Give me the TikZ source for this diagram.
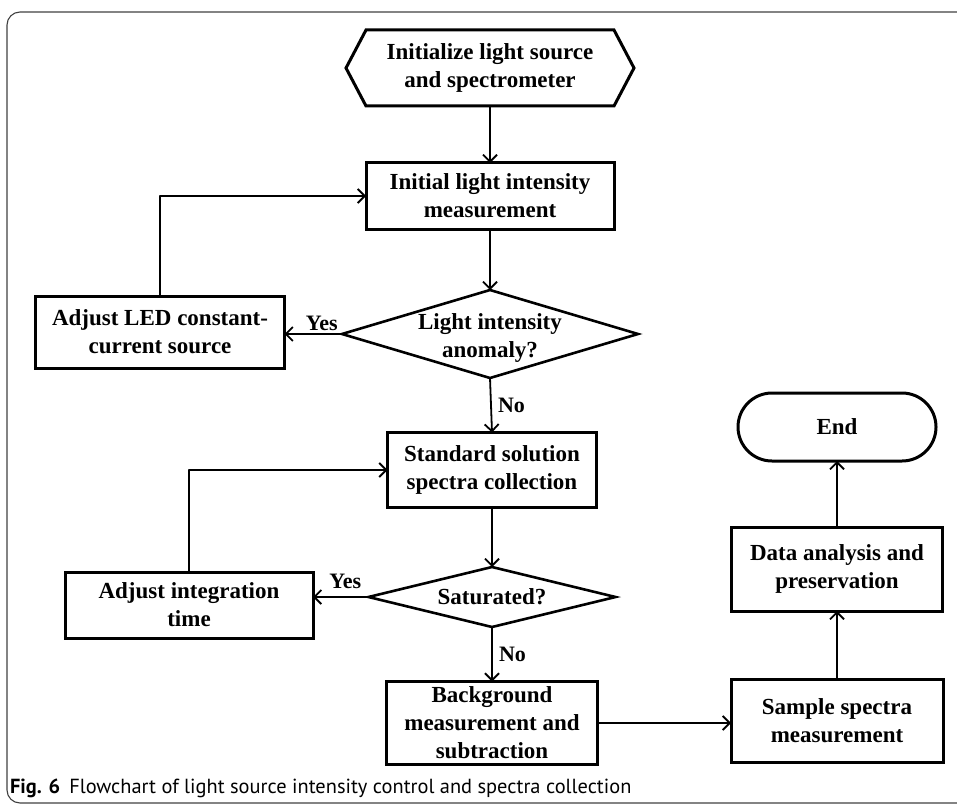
\documentclass[tikz,border=0pt]{standalone}
\usepackage{fontspec}
\setmainfont{Liberation Serif}
\newfontfamily\capfont{PT Sans}
\usetikzlibrary{arrows.meta,shapes.geometric,shapes.misc}
\begin{document}
\begin{tikzpicture}[
	x=1pt,y=-1pt,
	>={Straight Barb[length=7pt,width=14pt,line width=1.8pt]},
	line width=1.8pt,
	line cap=round,
	line join=round,
	every node/.style={font=\fontsize{23}{28}\selectfont\bfseries,align=center,outer sep=0pt},
	box/.style={draw,line width=3pt,line join=miter,inner sep=0pt},
	hexbox/.style={inner sep=0pt,minimum width=248pt,minimum height=76pt},
	decision/.style={draw,diamond,line width=2.6pt,line join=miter,inner sep=0pt},
	terminal/.style={draw,rounded rectangle,line width=3pt,inner sep=0pt},
	label/.style={font=\fontsize{22}{26}\selectfont\bfseries,inner sep=3pt}
	]
	\useasboundingbox (0,0) rectangle (957,805);
	\draw[line width=1.1pt,black!75,rounded corners=13pt] (7,12) rectangle (990,803);
	\node[hexbox] (init) at (490,68) {Initialize light source\\and spectrometer};
	\draw[line width=3pt,line join=miter] ([xshift=-20pt]init.west) -- (init.north west) -- (init.north east) -- ([xshift=20pt]init.east) -- (init.south east) -- (init.south west) -- cycle;
	\node[box,minimum width=248pt,minimum height=66pt] (meas) at (490,196) {Initial light intensity\\measurement};
	\node[decision,minimum width=296pt,minimum height=88pt] (anom) at (490,334) {};
	\node (anomtext) at ([yshift=-4pt]anom.center) {Light intensity\\anomaly?};
	\node[box,minimum width=249pt,minimum height=72pt] (adjled) at (160,332) {Adjust LED constant-\\current source};
	\node[box,minimum width=209pt,minimum height=75pt] (stdcol) at (492,470) {Standard solution\\spectra collection};
	\node[decision,minimum width=247pt,minimum height=60pt] (sat) at (492,597) {};
	\node (sattext) at (sat.center) {Saturated?};
	\node[box,minimum width=248pt,minimum height=66pt] (adjint) at (189,605) {Adjust integration\\time};
	\node[box,minimum width=211pt,minimum height=83pt] (bgsub) at (492,723) {Background\\measurement and\\subtraction};
	\node[box,minimum width=212pt,minimum height=83pt] (sample) at (837,721) {Sample spectra\\measurement};
	\node[box,minimum width=211pt,minimum height=84pt] (data) at (837,569) {Data analysis and\\preservation};
	\node[terminal,minimum width=198pt,minimum height=68pt] (stop) at (837,427) {End};
	\node[anchor=west,inner sep=0pt,font=\capfont\fontsize{20.4}{24}\selectfont] (cap) at (10,788) {\textbf{Fig. 6}\hspace{9pt}Flowchart of light source intensity control and spectra collection};
	\begin{scope}[->]
		\draw (init) -- (meas);
		\draw (meas) -- (anom);
		\draw (anom.west) -- (anom.west -| adjled.east) node[label,pos=0.35,above] {Yes};
		\draw (adjled.north) |- (meas.west);
		\draw (anom.south) -- (stdcol.north) node[label,midway,right,xshift=4pt] {No};
		\draw (stdcol) -- (sat);
		\draw (sat.west) -- (sat.west -| adjint.east) node[label,pos=0.42,above,yshift=5pt] {Yes};
		\draw (adjint.north) |- (stdcol.west);
		\draw (sat.south) -- (bgsub.north) node[label,midway,right,xshift=4pt] {No};
		\draw (bgsub.east) -- (bgsub.east -| sample.west);
		\draw (sample) -- (data);
		\draw (data) -- (stop);
	\end{scope}
\end{tikzpicture}
\end{document}
